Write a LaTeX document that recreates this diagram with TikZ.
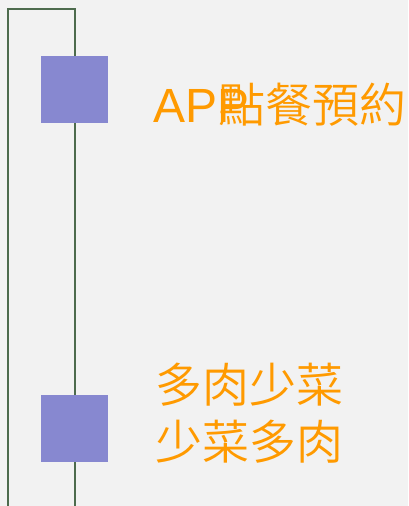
\documentclass[tikz,border=0pt]{standalone}
\usepackage{fontspec}
\newfontfamily\cjk{Noto Sans CJK TC DemiLight}
\newfontfamily\latn{Liberation Sans}
\definecolor{bg}{HTML}{F2F2F2}
\definecolor{frame}{HTML}{4D6B4D}
\definecolor{sq}{HTML}{8788D0}
\definecolor{lbl}{HTML}{FF9A00}
\tikzset{
  sqbox/.style={draw=none, fill=sq, minimum width=67pt, minimum height=67pt, inner sep=0pt, anchor=north west},
  lbltext/.style={text=lbl, inner sep=0pt, font=\cjk\fontsize{47}{57}\selectfont},
  frameline/.style={draw=frame, line width=1.4pt}
}
\begin{document}
\begin{tikzpicture}[x=1pt,y=-1pt]
\fill[bg] (0,0) rectangle (408,506);
\useasboundingbox (0,0) rectangle (408,506);
\coordinate (fl) at (8,506);
\coordinate (ftl) at (8,9);
\coordinate (ftr) at (75,9);
\coordinate (fr) at (75,506);
\draw[frameline] (fl) -- (ftl) -- (ftr) -- (fr);
\node[sqbox] (s1) at (41,56) {};
\node[sqbox] (s2) at (41,395) {};
\node[lbltext, anchor=base west] (t1) at (153,122) {{\latn\fontsize{48}{57}\selectfont APP}\kern-31pt 點餐預約};
\node[lbltext, anchor=base west, align=left] (t2) at (155,459) {多肉少菜\\少菜多肉};
\end{tikzpicture}
\end{document}
